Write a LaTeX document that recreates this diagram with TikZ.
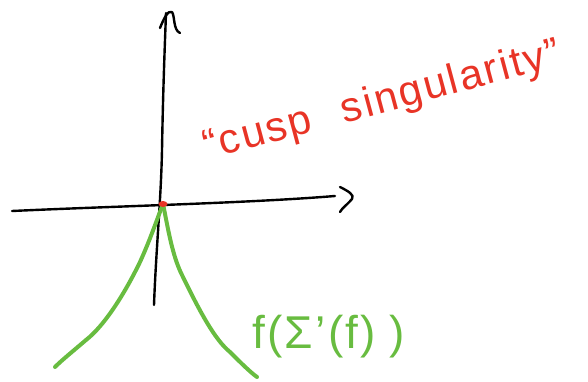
\documentclass[tikz,border=0pt]{standalone}
\usepackage{fontspec}
\setmainfont{Liberation Sans}
\begin{document}
\begin{tikzpicture}[x=1pt,y=-1pt,
  ink/.style={line width=2.4pt,line cap=round,line join=round},
  greenink/.style={line width=4pt,line cap=round,line join=round,draw=cuspgreen},
]
\definecolor{cuspred}{RGB}{232,52,38}
\definecolor{cuspgreen}{RGB}{104,188,64}
\useasboundingbox (0,0) rectangle (588,382);
% axes
\coordinate (xl) at (12,211);
\coordinate (xr) at (335,196);
\coordinate (yb) at (154,305);
\coordinate (yt) at (166,13);
\coordinate (o) at (163,204);
\draw[ink] (xl) .. controls (120,206) and (250,203) .. (xr);
\draw[ink] (yb) .. controls (156,250) and (161,200) .. (162,150) .. controls (163,90) and (165,40) .. (yt);
% arrowheads
\draw[ink] (160,28) .. controls (164,18) and (168,10) .. (172,12) .. controls (175,16) and (173,30) .. (180,33);
\draw[ink] (340,187) .. controls (348,191) and (355,195) .. (352,199) .. controls (348,204) and (342,208) .. (340,212);
% cusp
\draw[greenink] (o) .. controls (156,222) and (150,240) .. (140,262) .. controls (124,295) and (104,326) .. (86,340) .. controls (72,352) and (62,360) .. (55,367);
\draw[greenink] (o) .. controls (168,228) and (172,255) .. (182,275) .. controls (200,312) and (215,340) .. (230,352) .. controls (240,362) and (250,372) .. (257,377);
\fill[cuspred] (o) ellipse (4.5 and 3);
% labels
\node[text=cuspred,font=\fontsize{42}{44}\selectfont,rotate=15,anchor=base west,inner sep=0pt] (lbl) at (207,160) {\addfontfeatures{LetterSpace=5}“cusp\hspace{0.75em}singularity”};
\node[text=cuspgreen,font=\fontsize{46}{48}\selectfont,anchor=base west,inner sep=0pt] (fn) at (252,348) {\addfontfeatures{LetterSpace=5}f(Σ'(f)\hspace{0.3em})};
\end{tikzpicture}
\end{document}
